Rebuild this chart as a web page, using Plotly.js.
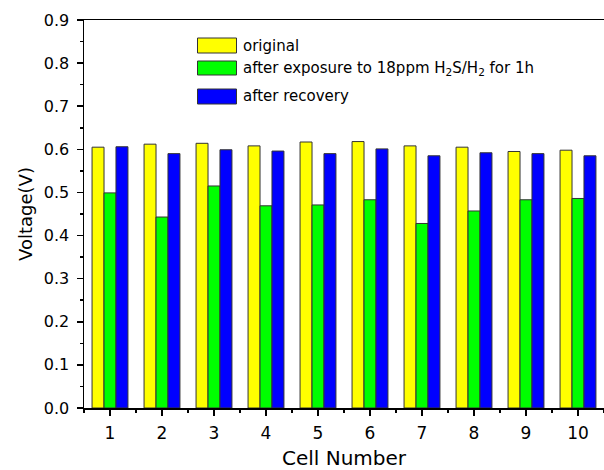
<!DOCTYPE html>
<html>
<head>
<meta charset="utf-8">
<script src="https://cdn.plot.ly/plotly-3.0.1.min.js"></script>
<style>html,body{margin:0;padding:0;background:#fff;}</style>
</head>
<body>
<div id="chart" style="width:604px;height:470px;"></div>
<script>
const cells = [1, 2, 3, 4, 5, 6, 7, 8, 9, 10];
const original = [0.605, 0.612, 0.614, 0.608, 0.617, 0.618, 0.608, 0.605, 0.595, 0.598];
const afterExposure = [0.499, 0.443, 0.515, 0.469, 0.471, 0.483, 0.428, 0.457, 0.483, 0.486];
const afterRecovery = [0.606, 0.590, 0.599, 0.596, 0.590, 0.601, 0.585, 0.592, 0.590, 0.585];
const seriesNames = ['original', 'after exposure to 18ppm H<sub>2</sub>S/H<sub>2</sub> for 1h', 'after recovery'];
const colors = ['#FFFF00', '#00FF00', '#0000FF'];

const FONT = 'DejaVu Sans, Liberation Sans, Arial, sans-serif';

const seriesValues = [original, afterExposure, afterRecovery];
const traces = seriesValues.map((vals, i) => ({
  type: 'bar',
  x: cells,
  y: vals,
  name: seriesNames[i],
  marker: {color: colors[i], line: {color: '#333333', width: 1}},
  showlegend: false
}));

// manual legend (wide swatches like the original)
const legRows = [[38, 53], [61, 75], [89, 104]]; // pixel rows
const plotTop = 20, plotBottom = 408, plotLeft = 84, plotW = 520;
const py = p => (plotBottom - p) / (plotBottom - plotTop);
const px = p => (p - plotLeft) / plotW;
const shapes = legRows.map((r, i) => ({
  type: 'rect', xref: 'paper', yref: 'paper',
  x0: px(197.5), x1: px(236.5), y0: py(r[1]), y1: py(r[0]),
  fillcolor: colors[i], line: {color: '#333333', width: 1}
}));
const annotations = legRows.map((r, i) => ({
  xref: 'paper', yref: 'paper', x: px(241), y: py((r[0] + r[1]) / 2),
  xanchor: 'left', yanchor: 'middle', showarrow: false,
  text: seriesNames[i], font: {family: FONT, size: 15, color: '#000'}
}));

const layout = {
  width: 604, height: 470,
  margin: {l: 84, r: 0, t: 20, b: 62},
  paper_bgcolor: '#fff', plot_bgcolor: '#fff',
  font: {family: FONT, color: '#000'},
  barmode: 'group', bargap: 0.31, bargroupgap: 0,
  xaxis: {
    range: [0.5, 10.5], tickmode: 'linear', tick0: 1, dtick: 1,
    ticks: 'outside', ticklen: 6, tickwidth: 1.5, tickcolor: '#000',
    ticklabelstandoff: 3,
    minor: {tickmode: 'linear', tick0: 0.5, dtick: 1, ticks: 'outside', ticklen: 3, tickcolor: '#000', showgrid: false},
    showline: true, linecolor: '#000', linewidth: 1.5, mirror: true,
    showgrid: false, zeroline: false,
    tickfont: {family: FONT, size: 17},
    title: {text: 'Cell Number', font: {family: FONT, size: 20}, standoff: 12}
  },
  yaxis: {
    range: [0, 0.9], tickmode: 'linear', tick0: 0, dtick: 0.1, tickformat: '.1f',
    ticks: 'outside', ticklen: 6, tickwidth: 1.5, tickcolor: '#000',
    ticklabelstandoff: 4,
    minor: {tickmode: 'linear', tick0: 0.05, dtick: 0.1, ticks: 'outside', ticklen: 3, tickcolor: '#000', showgrid: false},
    showline: true, linecolor: '#000', linewidth: 1.5, mirror: true,
    showgrid: false, zeroline: false,
    tickfont: {family: FONT, size: 16},
    title: {text: 'Voltage(V)', font: {family: FONT, size: 18}, standoff: 6}
  },
  shapes: shapes,
  annotations: annotations
};

Plotly.newPlot('chart', traces, layout, {displayModeBar: false, staticPlot: true});
</script>
</body>
</html>
